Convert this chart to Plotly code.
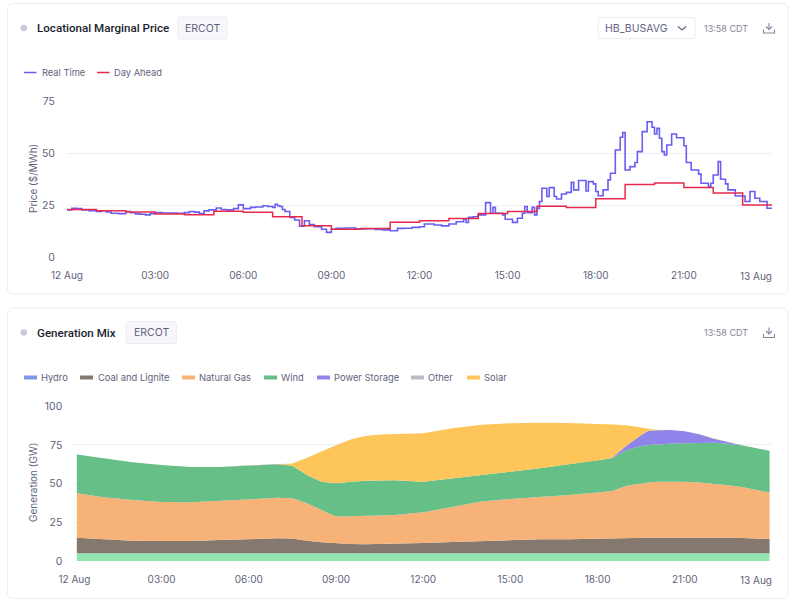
import plotly.graph_objects as go
from plotly.subplots import make_subplots

W, H = 800, 606
DAY = "2024-08-12 "
NEXT_DAY = "2024-08-13 00:00"
FONT = "Inter"
TITLE_FONT = "Roboto"

# Locational marginal price
rt_times = ["00:00", "00:10", "00:20", "00:30", "00:45", "01:00", "01:10", "01:20", "01:30", "01:45", "02:00",
            "02:10", "02:20", "02:30", "02:40", "02:50", "03:00", "03:15", "03:30", "03:45", "04:00", "04:10",
            "04:20", "04:30", "04:40", "04:50", "05:05", "05:15", "05:25", "05:40", "05:50", "06:00", "06:15",
            "06:25", "06:40", "06:50", "07:00", "07:05", "07:10", "07:15", "07:20", "07:25", "07:35", "07:45",
            "07:55", "08:05", "08:15", "08:25", "08:40", "08:50", "09:00", "09:10", "09:30", "09:50", "10:10",
            "10:30", "10:45", "11:00", "11:15", "11:30", "11:45",
            "12:00", "12:10", "12:30", "12:45", "13:00", "13:15", "13:30", "13:35", "13:40", "13:50", "14:00",
            "14:15", "14:25", "14:30", "14:35", "14:50", "14:55", "15:10", "15:20", "15:30", "15:35", "15:40",
            "15:50", "15:55", "16:00", "16:05", "16:10", "16:20", "16:25", "16:35", "16:40", "16:50", "17:00",
            "17:10", "17:15", "17:25", "17:40", "17:45", "17:55", "18:00", "18:05", "18:15", "18:25", "18:30",
            "18:40", "18:50", "18:55", "19:00", "19:10", "19:20", "19:25", "19:35", "19:45", "19:55", "20:00",
            "20:05", "20:10", "20:15", "20:20", "20:25", "20:35", "20:45", "21:00", "21:05", "21:15", "21:30",
            "21:35", "21:50", "21:55", "22:00", "22:10", "22:15", "22:25", "22:30", "22:45", "23:05", "23:15",
            "23:25", "23:35", "23:50"]
rt_values = [22.8, 23.5, 23.4, 22.8, 22.4, 22.0, 22.4, 21.8, 21.2, 21.0, 22.0,
             21.4, 20.9, 20.7, 20.4, 21.0, 21.5, 21.3, 21.3, 21.2, 21.5, 22.0,
             21.7, 21.0, 22.3, 22.8, 23.7, 23.0, 22.8, 23.4, 25.2, 23.4, 24.0,
             24.2, 24.8, 24.4, 24.0, 25.5, 24.8, 24.4, 23.0, 22.0, 19.2, 17.9,
             15.0, 17.6, 15.8, 14.7, 13.5, 12.0, 13.5, 14.0, 14.1, 13.6, 13.7,
             13.4, 13.2, 12.8, 13.9, 14.0, 14.4,
             14.7, 16.0, 15.5, 15.1, 16.0, 17.1, 18.3, 16.7, 19.2, 19.5, 20.4,
             26.3, 21.2, 24.0, 21.2, 20.4, 18.3, 16.8, 18.8, 21.2, 24.4, 21.5,
             24.0, 20.4, 23.5, 26.8, 33.2, 29.2, 33.5, 29.2, 28.0, 30.4, 31.2,
             36.0, 32.4, 36.9, 31.9, 36.4, 35.3, 31.6, 29.6, 32.4, 37.2, 40.4,
             51.6, 57.7, 60.0, 42.0, 43.6, 45.6, 50.8, 60.4, 65.2, 62.5, 59.3,
             62.0, 57.2, 50.8, 49.2, 54.0, 59.3, 57.5, 53.6, 45.6, 42.0, 40.0,
             35.6, 34.0, 35.6, 39.6, 46.0, 37.5, 35.3, 32.4, 29.5, 26.8, 31.6,
             28.4, 26.8, 23.6]
da_times = ["00:00", "01:00", "02:00", "03:00", "04:00", "05:00", "06:00", "07:00", "08:00", "09:00", "10:00",
            "11:00", "12:00", "13:00", "14:00", "15:00", "16:00", "17:00", "18:00", "19:00", "20:00", "21:00",
            "22:00", "23:00"]
da_values = [23.0, 22.4, 21.8, 20.8, 20.5, 22.1, 21.6, 19.5, 15.2, 13.5, 13.9,
             16.8, 17.6, 18.7, 21.0, 22.0, 24.5, 23.9, 28.2, 35.0, 35.7, 33.5,
             30.9, 25.2]
price_ticks = [0, 25, 50, 75]

# Generation mix, GW per fuel
gen_times = ["00:05", "01:00", "02:00", "03:00", "04:00", "05:00", "06:00", "07:00", "07:30", "08:00", "08:30",
             "09:00", "09:30", "10:00", "10:30", "11:00", "12:00", "13:00", "14:00", "15:00", "16:00", "17:00",
             "18:00", "18:30", "19:00", "19:30", "19:45", "20:00", "20:30", "21:00", "21:30", "22:00", "22:30",
             "23:00", "23:55"]
nuclear = [5.0, 5.0, 5.0, 5.0, 5.0, 5.0, 5.0, 5.0, 5.0, 5.0, 5.0,
           5.0, 5.0, 5.0, 5.0, 5.0, 5.0, 5.0, 5.0, 5.0, 5.0, 5.0,
           5.0, 5.0, 5.0, 5.0, 5.0, 5.0, 5.0, 5.0, 5.0, 5.0, 5.0,
           5.0, 5.0]
coal = [10.1, 9.2, 8.1, 7.9, 7.9, 8.6, 9.2, 9.7, 9.6, 8.1, 7.2,
        6.4, 6.0, 5.8, 5.9, 6.2, 6.6, 7.3, 7.9, 8.6, 9.0, 9.0,
        9.2, 9.4, 9.7, 9.9, 10.0, 10.1, 10.2, 10.1, 10.1, 10.1, 10.0,
        9.9, 9.2]
natural_gas = [28.7, 27.0, 26.3, 25.2, 25.0, 25.2, 25.7, 26.2, 26.0, 24.2, 20.8,
               17.3, 18.0, 18.5, 18.5, 18.5, 19.9, 22.8, 25.5, 26.5, 27.2, 28.7,
               30.0, 30.9, 34.0, 35.4, 35.8, 36.2, 36.3, 36.2, 35.7, 34.9, 34.0,
               32.7, 30.0]
wind = [25.0, 25.2, 24.4, 23.9, 22.9, 22.0, 21.7, 21.6, 21.0, 18.3, 18.3,
        21.5, 22.2, 22.6, 22.7, 22.5, 19.8, 18.3, 17.2, 17.4, 18.7, 19.8,
        20.7, 21.1, 23.1, 24.0, 24.2, 24.1, 24.3, 24.8, 25.6, 26.5, 26.8,
        27.0, 27.1]
storage = [0, 0, 0, 0, 0, 0, 0, 0.2, 0, 0, 0,
           0, 0, 0, 0, 0, 0, 0, 0, 0, 0, 0,
           0, 0.3, 2.8, 7.2, 9.2, 9.1, 8.9, 7.7, 5.5, 2.6, 1.0,
           0, 0]
solar = [0, 0, 0, 0, 0, 0, 0, 0, 1.5, 11.2, 19.7,
         24.6, 27.3, 28.9, 29.6, 29.9, 31.2, 32.4, 32.5, 31.5, 29.5, 26.7,
         23.9, 21.6, 13.1, 4.7, 1.2, 0.4, 0, 0, 0, 0, 0,
         0, 0]
gen_ticks = [0, 25, 50, 75, 100]

hour_ticks = ["00:00", "03:00", "06:00", "09:00", "12:00", "15:00", "18:00", "21:00"]
hour_labels = ["12 Aug", "03:00", "06:00", "09:00", "12:00", "15:00", "18:00", "21:00"]

C_RT = "#6a5df2"
C_DA = "#e62a4e"
C_TEXT = "#1c1c2e"
C_MUTED = "#62627c"
C_FAINT = "#85859b"
C_GRID = "#eeeef5"
C_BORDER = "#ececf3"
C_PILL = "#f7f7fb"
LEGEND_GEN = [("Hydro", "#7f97ea", 24, 41), ("Coal and Lignite", "#85796f", 80, 98),
              ("Natural Gas", "#f6b277", 182, 199), ("Wind", "#66bf86", 264, 281),
              ("Power Storage", "#8f84ea", 317, 334), ("Other", "#bcbcc9", 411, 428),
              ("Solar", "#fec65a", 467, 484)]


def px(x):
    return x / W


def py(y):
    return 1 - y / H


def stamp(times):
    return [DAY + t for t in times]


def round_rect(x0, y0, x1, y1, r, fill, line):
    X0, X1, Y0, Y1 = px(x0), px(x1), py(y0), py(y1)
    rx, ry = r / W, r / H
    path = (f"M {X0 + rx} {Y0} L {X1 - rx} {Y0} Q {X1} {Y0} {X1} {Y0 - ry} "
            f"L {X1} {Y1 + ry} Q {X1} {Y1} {X1 - rx} {Y1} L {X0 + rx} {Y1} "
            f"Q {X0} {Y1} {X0} {Y1 + ry} L {X0} {Y0 - ry} Q {X0} {Y0} {X0 + rx} {Y0} Z")
    return dict(type="path", xref="paper", yref="paper", path=path, fillcolor=fill,
                line=dict(color=line, width=1), layer="below")


def polyline(points, color, width=1.1):
    d = "M " + " L ".join(f"{px(x)} {py(y)}" for x, y in points)
    return dict(type="path", xref="paper", yref="paper", path=d, line=dict(color=color, width=width))


def label(x, y, text, size=10, color=C_MUTED, anchor="left", weight=None, angle=0, family=FONT):
    font = dict(family=family, size=size, color=color)
    if weight:
        font["weight"] = weight
    # annotations sit about 2px inside their anchor
    shift = {"left": -2, "right": 2}.get(anchor, 0)
    return dict(xref="paper", yref="paper", x=px(x + shift), y=py(y), text=text, showarrow=False,
                xanchor=anchor, yanchor="middle", font=font, textangle=angle)


def download_icon(cx, cy):
    return [polyline([(cx, cy - 5), (cx, cy + 1.5)], C_FAINT),
            polyline([(cx - 3, cy - 1.5), (cx, cy + 1.5), (cx + 3, cy - 1.5)], C_FAINT),
            polyline([(cx - 5.5, cy + 1.5), (cx - 5.5, cy + 5), (cx + 5.5, cy + 5), (cx + 5.5, cy + 1.5)], C_FAINT)]


def card_header(top, title, pill_x0, pill_x1):
    mid = top + 24.5
    items = [round_rect(7.5, top, 788, top + (294 - 3.5), 6, "#ffffff", C_BORDER),
             round_rect(pill_x0, mid - 11, pill_x1, mid + 11, 3, C_PILL, C_BORDER),
             dict(type="circle", xref="paper", yref="paper", x0=px(20.5), x1=px(27),
                  y0=py(mid + 3.3), y1=py(mid - 3.3), fillcolor="#cacad6", line=dict(width=0))]
    items += download_icon(769, mid)
    notes = [label(36.5, mid, title, size=11.6, color=C_TEXT, weight=500, family=TITLE_FONT),
             label((pill_x0 + pill_x1) / 2, mid, "ERCOT", size=10.5, anchor="center"),
             label(748, mid, "13:58 CDT", size=9, color=C_FAINT, anchor="right")]
    return items, notes


fig = make_subplots(rows=2, cols=1)

fig.add_trace(go.Scatter(x=stamp(rt_times) + [NEXT_DAY], y=rt_values + [rt_values[-1]], name="Real Time",
                         mode="lines", line=dict(color=C_RT, width=1.6, shape="hv")), row=1, col=1)
fig.add_trace(go.Scatter(x=stamp(da_times) + [NEXT_DAY], y=da_values + [da_values[-1]], name="Day Ahead",
                         mode="lines", line=dict(color=C_DA, width=1.5, shape="hv")), row=1, col=1)

stack = [("Nuclear", nuclear, "#93e6b2"), ("Coal and Lignite", coal, "#85796f"),
         ("Natural Gas", natural_gas, "#f6b277"), ("Wind", wind, "#66bf86"),
         ("Power Storage", storage, "#8f84ea"), ("Solar", solar, "#fec65a")]
for name, values, color in stack:
    fig.add_trace(go.Scatter(x=stamp(gen_times), y=values, name=name, mode="lines", stackgroup="gen",
                             line=dict(width=0, color=color), fillcolor=color), row=2, col=1)

shapes, notes = [], []
s, n = card_header(3.5, "Locational Marginal Price", 178, 227)
shapes += s
notes += n
s, n = card_header(308, "Generation Mix", 126, 176.5)
shapes += s
notes += n

# dropdown on the price card
shapes.append(round_rect(598, 17.5, 695, 38.5, 3, "#ffffff", C_BORDER))
shapes.append(polyline([(678, 26.5), (682, 30), (686, 26.5)], C_MUTED))
notes.append(label(605, 28, "HB_BUSAVG", size=10.5))

# legends
for name, color, x0, tx in [("Real Time", C_RT, 24, 41.5), ("Day Ahead", C_DA, 97, 114)]:
    shapes.append(dict(type="line", xref="paper", yref="paper", x0=px(x0), x1=px(x0 + 12.5),
                       y0=py(72.5), y1=py(72.5), line=dict(color=color, width=1.5)))
    notes.append(label(tx, 72.5, name, size=9.3))
for name, color, x0, tx in LEGEND_GEN:
    shapes.append(dict(type="rect", xref="paper", yref="paper", x0=px(x0), x1=px(x0 + 13),
                       y0=py(379.5), y1=py(375.5), fillcolor=color, line=dict(width=0)))
    notes.append(label(tx, 377.5, name, size=9.4))

notes.append(label(33, 179, "Price ($/MWh)", size=10, anchor="center", angle=-90))
notes.append(label(33, 483, "Generation (GW)", size=10, anchor="center", angle=-90))
notes.append(label(772, 275.5, "13 Aug", size=10, anchor="right"))
notes.append(label(772, 579.5, "13 Aug", size=10, anchor="right"))

fig.update_layout(width=W, height=H, margin=dict(l=0, r=0, t=0, b=0, pad=0), autosize=False, showlegend=False,
                  paper_bgcolor="#ffffff", plot_bgcolor="rgba(0,0,0,0)", shapes=shapes, annotations=notes,
                  font=dict(family=FONT, color=C_MUTED, size=10))

x_range = [DAY + "00:00", NEXT_DAY]
common_x = dict(type="date", range=x_range, tickmode="array", tickvals=stamp(hour_ticks), ticktext=hour_labels,
                showgrid=False, zeroline=False, showline=False, ticks="outside", ticklen=9, automargin=False,
                tickcolor="rgba(0,0,0,0)", tickfont=dict(family=FONT, size=10, color=C_MUTED))
common_y = dict(showgrid=True, gridcolor=C_GRID, gridwidth=1, zeroline=False, showline=False, ticks="outside",
                ticklen=9, automargin=False, tickcolor="rgba(0,0,0,0)", tickfont=dict(family=FONT, size=10.5, color=C_MUTED))
fig.update_xaxes(common_x)
fig.update_yaxes(common_y)
fig.update_xaxes(domain=[px(67), px(772)], row=1, col=1)
fig.update_xaxes(domain=[px(74.4), px(772)], row=2, col=1)
fig.update_yaxes(domain=[py(257.3), py(101.3)], range=[0, 75], tickvals=price_ticks, row=1, col=1)
fig.update_yaxes(domain=[py(561), py(406.3)], range=[0, 100], tickvals=gen_ticks, row=2, col=1)

# the page's default body margin would push the figure 8px off
fig.write_html("out.html", config={"displayModeBar": False}, post_script="document.body.style.margin = '0';")
